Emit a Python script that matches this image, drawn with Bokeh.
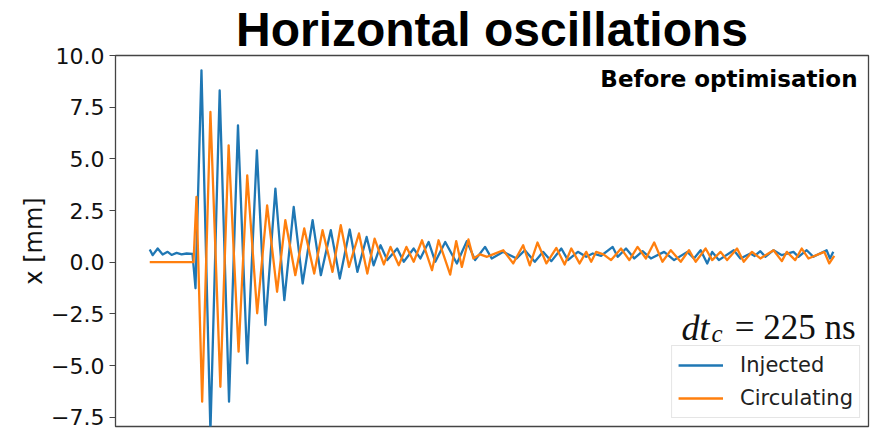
from bokeh.plotting import figure
from bokeh.models import Label, FixedTicker, Range1d
from bokeh.embed import file_html
from bokeh.resources import INLINE

# Beam position at the BPM, horizontal plane (time axis in arbitrary units)
t_inj = [0.0, 0.3, 0.8, 1.3, 1.8, 2.2, 2.7, 3.2, 3.7, 4.3, 4.6, 5.2, 6.1, 7.03, 7.97,
         8.87, 9.8, 10.77, 11.63, 12.63, 13.53, 14.47, 15.37, 16.37, 17.2, 18.2, 19.1,
         20.1, 20.87, 21.8, 22.5, 23.2, 23.87, 24.87, 25.53, 26.53, 27.2, 28.03, 28.7,
         29.7, 30.87, 31.87, 32.7, 33.7, 34.37, 35.53, 36.87, 37.7, 38.7, 39.53, 40.37,
         41.37, 42.03, 43.03, 43.87, 44.53, 45.37, 46.53, 47.03, 47.87, 48.7, 49.53,
         50.37, 51.7, 52.7, 54.03, 54.7, 55.37, 56.03, 56.53, 57.2, 58.7, 59.37, 60.37,
         60.8, 61.37, 61.87, 62.7, 63.53, 64.7, 65.2, 66.03, 66.7, 68.03, 68.37, 68.7]
x_inj = [0.61, 0.34, 0.66, 0.37, 0.50, 0.35, 0.45, 0.38, 0.42, 0.40, -1.26, 9.28, -8.2,
         8.31, -6.75, 6.62, -4.90, 5.41, -3.04, 3.56, -1.84, 2.67, -1.03, 2.03, -0.63,
         1.55, -0.79, 1.58, -0.47, 1.22, -0.15, 0.82, 0.10, 0.66, 0.02, 0.66, 0.18, 0.98,
         0.02, 0.98, -0.06, 1.02, 0.10, 0.74, 0.18, 0.50, 0.18, 0.58, 0.02, 0.50, 0.05,
         0.66, 0.10, 0.50, 0.26, 0.42, 0.31, 0.74, 0.26, 0.66, 0.18, 0.53, 0.18, 0.50,
         0.10, 0.50, 0.18, 0.58, -0.06, 0.50, 0.10, 0.58, 0.18, 0.42, 0.30, 0.53, 0.26,
         0.58, 0.34, 0.50, 0.26, 0.58, 0.26, 0.58, 0.18, 0.50]

t_circ = [0.0, 4.4, 4.7, 5.27, 6.1, 7.1, 7.93, 8.93, 9.8, 10.8, 11.8, 12.8, 13.63, 14.63,
          15.53, 16.53, 17.37, 18.37, 19.2, 20.03, 21.03, 21.87, 22.6, 23.53, 24.2, 25.03,
          25.8, 26.53, 27.37, 28.37, 29.03, 30.2, 30.8, 31.37, 32.03, 32.53, 33.2, 33.9,
          34.5, 35.53, 36.53, 37.53, 38.2, 38.97, 39.87, 40.87, 41.7, 42.37, 43.2, 43.87,
          44.37, 44.87, 45.6, 46.37, 47.37, 48.2, 49.03, 49.87, 50.7, 51.53, 52.37, 53.37,
          54.2, 54.87, 55.87, 56.53, 57.37, 58.03, 59.03, 59.7, 60.53, 61.37, 62.7, 63.53,
          64.03, 64.87, 65.53, 66.2, 67.8, 68.3, 68.8]
x_circ = [0.0, 0.0, 3.16, -6.75, 7.27, -6.03, 5.65, -4.33, 4.20, -2.47, 2.75, -1.43, 2.03,
          -0.63, 1.63, -0.55, 1.55, -0.47, 1.79, -0.23, 1.39, -0.55, 1.14, -0.11, 0.74,
          -0.15, 0.74, 0.02, 1.06, -0.39, 1.06, -0.60, 1.02, -0.23, 1.10, 0.18, 0.38, 0.26,
          0.38, 0.58, -0.06, 0.82, -0.15, 0.95, -0.06, 0.69, -0.11, 0.66, -0.06, 0.50, 0.02,
          0.50, 0.38, 0.10, 0.66, 0.10, 0.74, 0.18, 0.95, 0.02, 0.58, 0.02, 0.58, 0.02,
          0.66, 0.10, 0.50, 0.10, 0.66, 0.02, 0.50, 0.18, 0.58, 0.05, 0.50, 0.10, 0.66,
          0.18, 0.50, -0.06, 0.30]

y_ticks = [-7.5, -5.0, -2.5, 0.0, 2.5, 5.0, 7.5, 10.0]
y_tick_labels = ["\u22127.5", "\u22125.0", "\u22122.5", "0.0", "2.5", "5.0", "7.5", "10.0"]

BLUE = "#1f77b4"
ORANGE = "#ff7f0e"

X0, X1 = -3.44, 72.24
Y0, Y1 = -7.95, 10.0

p = figure(width=877, height=429, output_backend="svg", toolbar_location=None,
           x_range=Range1d(X0, X1), y_range=Range1d(Y0, Y1),
           min_border_left=115, min_border_right=9, min_border_top=55,
           min_border_bottom=3, title="Horizontal oscillations")

p.title.text_font = "Liberation Sans"
p.title.text_font_style = "bold"
p.title.text_font_size = "48px"
p.title.align = "center"
p.title.offset = -4
p.title.standoff = 0
p.title.text_color = "#000000"

p.line(t_inj, x_inj, color=BLUE, line_width=2.3, line_join="round",
       legend_label="Injected")
p.line(t_circ, x_circ, color=ORANGE, line_width=2.3, line_join="round",
       legend_label="Circulating")

p.xaxis.visible = False
p.xgrid.visible = False
p.ygrid.visible = False
p.outline_line_color = "#444444"
p.outline_line_width = 1.3

ax = p.yaxis[0]
ax.ticker = FixedTicker(ticks=y_ticks)
ax.major_label_overrides = {v: s for v, s in zip(y_ticks, y_tick_labels)}
ax.minor_tick_line_color = None
ax.major_tick_out = 6
ax.major_tick_in = 0
ax.major_tick_line_color = "#444444"
ax.axis_line_color = "#444444"
ax.major_label_standoff = 5
ax.major_label_text_font = "DejaVu Sans"
ax.major_label_text_font_size = "22px"
ax.major_label_text_line_height = 1.0
ax.major_label_text_color = "#111111"
ax.axis_label = "x [mm]"
ax.axis_label_text_font = "DejaVu Sans"
ax.axis_label_text_font_size = "24px"
ax.axis_label_text_font_style = "normal"
ax.axis_label_text_color = "#111111"
ax.axis_label_standoff = 0

lg = p.legend[0]
lg.location = "bottom_right"
lg.margin = 8
lg.padding = 6
lg.spacing = 7
lg.label_height = 26
lg.glyph_height = 26
lg.glyph_width = 45
lg.label_standoff = 17
lg.label_text_font = "DejaVu Sans"
lg.label_text_font_size = "21px"
lg.label_text_color = "#222222"
lg.border_line_color = "#cccccc"
lg.border_line_width = 1
lg.background_fill_alpha = 0.8

p.add_layout(Label(x=X1, y=Y1, x_offset=-11, y_offset=-23, text="Before optimisation",
                   text_font="DejaVu Sans", text_font_style="bold", text_font_size="23px",
                   text_align="right", text_baseline="alphabetic", text_color="#000000"))

# dt_c = 225 ns, set as italic symbol, subscript and upright value
p.add_layout(Label(x=X1, y=Y1, x_offset=-159, y_offset=-272, text="dt",
                   text_font="Liberation Serif", text_font_style="italic",
                   text_font_size="36px", text_align="right", text_baseline="alphabetic",
                   text_color="#111111"))
p.add_layout(Label(x=X1, y=Y1, x_offset=-157, y_offset=-278, text="c",
                   text_font="Liberation Serif", text_font_style="italic",
                   text_font_size="25px", text_align="left", text_baseline="alphabetic",
                   text_color="#111111"))
p.add_layout(Label(x=X1, y=Y1, x_offset=-13, y_offset=-272, text="= 225 ns",
                   text_font="Liberation Serif", text_font_size="35px",
                   text_align="right", text_baseline="alphabetic", text_color="#111111"))

open("out.html", "w").write(file_html(p, INLINE))
